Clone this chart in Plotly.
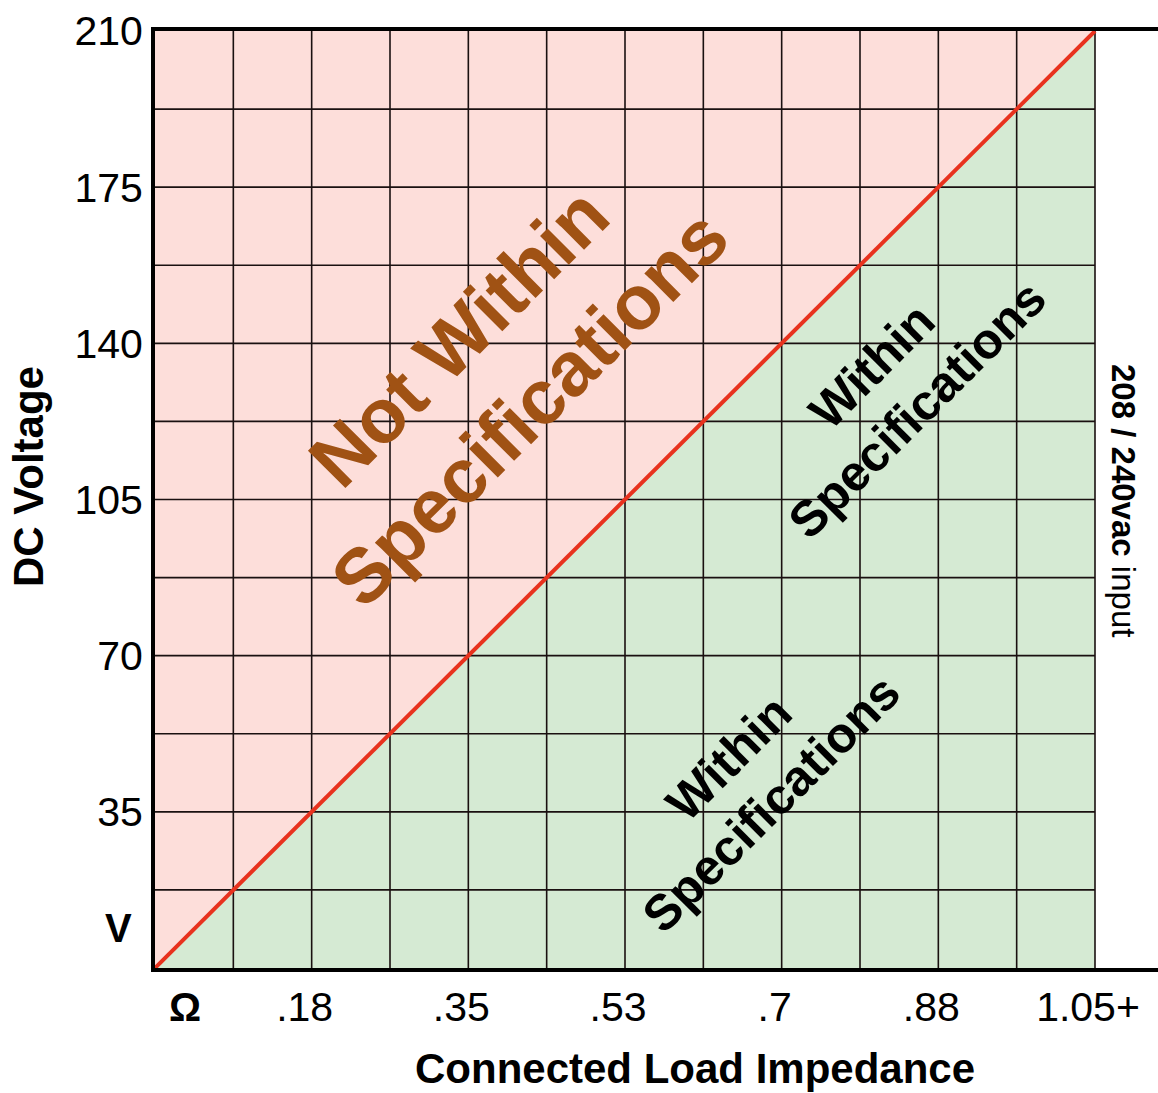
import plotly.graph_objects as go

# ---- data ----
impedance_max = 1.05
voltage_max = 210
boundary_impedance = [0, 1.05]
boundary_voltage = [0, 210]
x_tick_vals = [0.175, 0.35, 0.525, 0.7, 0.875, 1.05]
x_tick_text = [".18", ".35", ".53", ".7", ".88", "1.05+"]
y_tick_vals = [35, 70, 105, 140, 175, 210]
y_tick_text = ["35", "70", "105", "140", "175", "210"]
x_grid = [0.0875 * k for k in range(1, 13)]
y_grid = [17.5 * k for k in range(1, 12)]

FONT = "Liberation Sans, Arial, Helvetica, sans-serif"
PINK = "#FDDEDA"
GREEN = "#D5EAD3"
RED = "#E8321E"
BROWN = "#A05214"
GRID = "#1a1010"

W, H = 1158, 1093
L, R, T, B = 155, 0, 31, 125
grid_px_right = 1095
x_range_max = impedance_max * (W - L - R) / (grid_px_right - L)

fig = go.Figure()

# pink region (not within specifications)
fig.add_trace(go.Scatter(
    x=[0, 0, impedance_max, 0], y=[0, voltage_max, voltage_max, 0],
    fill="toself", fillcolor=PINK, mode="none", hoverinfo="skip", showlegend=False))
# green region (within specifications)
fig.add_trace(go.Scatter(
    x=[0, impedance_max, impedance_max, 0], y=[0, 0, voltage_max, 0],
    fill="toself", fillcolor=GREEN, mode="none", hoverinfo="skip", showlegend=False))

# grid lines
gx, gy = [], []
for xv in x_grid:
    gx += [xv, xv, None]
    gy += [0, voltage_max, None]
for yv in y_grid:
    gx += [0, impedance_max, None]
    gy += [yv, yv, None]
fig.add_trace(go.Scatter(x=gx, y=gy, mode="lines", line=dict(color=GRID, width=1.6),
                         hoverinfo="skip", showlegend=False))

# boundary line
fig.add_trace(go.Scatter(x=boundary_impedance, y=boundary_voltage, mode="lines",
                         line=dict(color=RED, width=4), hoverinfo="skip", showlegend=False,
                         cliponaxis=False))

fig.update_layout(
    width=W, height=H,
    margin=dict(l=L, r=R, t=T, b=B, autoexpand=False),
    paper_bgcolor="white", plot_bgcolor="white",
    font=dict(family=FONT, color="black"),
    xaxis=dict(range=[0, x_range_max], showgrid=False, zeroline=False, automargin=False,
               showline=True, linecolor="black", linewidth=4, mirror=True,
               tickvals=x_tick_vals, ticktext=x_tick_text, ticks="", ticklen=0,
               tickfont=dict(size=41, family=FONT), ticklabelstandoff=0,
               ticklabelshift=-7, fixedrange=True),
    yaxis=dict(range=[0, voltage_max], showgrid=False, zeroline=False, automargin=False,
               showline=True, linecolor="black", linewidth=4, mirror=False,
               tickvals=y_tick_vals, ticktext=y_tick_text, ticks="", ticklen=0,
               tickfont=dict(size=41, family=FONT), ticklabelstandoff=0,
               fixedrange=True),
)

# pixel-positioned annotations (converted to paper coordinates below)
annotations = [
    dict(x=0.379, y=133.5, xref="x", yref="y", text="<b>Not Within<br>Specifications</b>",
         textangle=-45, showarrow=False, font=dict(size=77, color=BROWN, family=FONT)),
    dict(x=872, y=366, text="<b>Within</b>", textangle=-45, showarrow=False,
         font=dict(size=50, color="black", family=FONT)),
    dict(x=917, y=410, text="<b>Specifications</b>", textangle=-45, showarrow=False,
         font=dict(size=50, color="black", family=FONT)),
    dict(x=729, y=758, text="<b>Within</b>", textangle=-45, showarrow=False,
         font=dict(size=50, color="black", family=FONT)),
    dict(x=771, y=804, text="<b>Specifications</b>", textangle=-45, showarrow=False,
         font=dict(size=50, color="black", family=FONT)),
    dict(x=1124, y=500, text="<b>208 / 240vac</b> input",
         textangle=90, showarrow=False, font=dict(size=33, color="black", family=FONT)),
    dict(x=695, y=1068, text="<b>Connected Load Impedance</b>", showarrow=False,
         font=dict(size=42, color="black", family=FONT)),
    dict(x=28, y=477, text="<b>DC Voltage</b>", textangle=-90, showarrow=False,
         font=dict(size=42, color="black", family=FONT)),
    dict(x=118, y=928, text="<b>V</b>", showarrow=False,
         font=dict(size=40, color="black", family=FONT)),
    dict(x=185, y=1007, text="<b>Ω</b>", showarrow=False,
         font=dict(size=40, color="black", family=FONT)),
]

pw, ph = W - L - R, H - T - B
out = []
for a in annotations:
    if a.get("xref") == "x":
        out.append(a)
        continue
    px, py = a["x"], a["y"]
    a = dict(a)
    a["xref"], a["yref"] = "paper", "paper"
    a["x"] = (px - L) / pw
    a["y"] = (H - B - py) / ph
    a["xanchor"], a["yanchor"] = "center", "middle"
    out.append(a)
fig.update_layout(annotations=out)

fig.write_html("out.html", config={"displayModeBar": False},
               post_script="document.body.style.margin='0';document.body.style.overflow='hidden';")
